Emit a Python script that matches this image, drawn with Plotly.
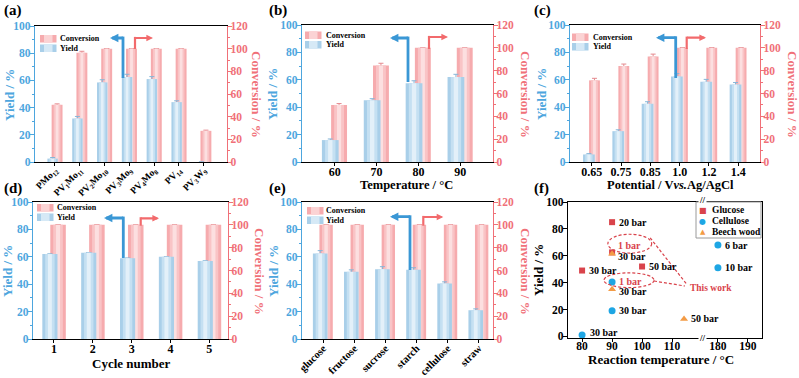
import plotly.graph_objects as go

W, H = 799, 378
FONT = "Liberation Serif"
BLUE_T = "#4da6de"
RED_T = "#f07078"
BLUE_ARR = "#3a97d5"
RED_ARR = "#f26a6c"
GLU_C = "#d9434b"
CEL_C = "#1ea6e4"
BEE_C = "#f39b45"
TW_C = "#d9434b"

# ---------------- data ----------------
# (a) catalysts
a_cats = ["PMo<sub>12</sub>", "PV<sub>1</sub>Mo<sub>11</sub>", "PV<sub>2</sub>Mo<sub>10</sub>",
          "PV<sub>3</sub>Mo<sub>9</sub>", "PV<sub>4</sub>Mo<sub>8</sub>", "PV<sub>14</sub>",
          "PV<sub>3</sub>W<sub>9</sub>"]
a_yield = [2.5, 32, 58.5, 62.5, 61, 44, 0]
a_yield_err = [0.8, 1.5, 2, 2, 1.8, 1, None]
a_conv = [50.5, 96.5, 100, 100, 100, 100, 27.5]
a_conv_err = [0.8, 1.2, None, None, None, None, 0.6]

# (b) temperature
b_cats = ["60", "70", "80", "90"]
b_yield = [16, 45, 57.5, 62]
b_yield_err = [0.8, 1.2, 1.8, 2]
b_conv = [50, 84.5, 100, 100]
b_conv_err = [1.2, 2, None, None]

# (c) potential
c_cats = ["0.65", "0.75", "0.85", "1.0", "1.2", "1.4"]
c_yield = [5.5, 22.5, 42.5, 62.5, 58.5, 56.5]
c_yield_err = [0.6, 1, 1.5, 2, 1.8, 1.5]
c_conv = [71.5, 84, 92.5, 100, 100, 100]
c_conv_err = [1.8, 1.8, 2, None, None, None]

# (d) cycles
d_cats = ["1", "2", "3", "4", "5"]
d_yield = [62, 63, 59, 60, 57]
d_yield_err = [None, None, None, None, None]
d_conv = [100, 100, 100, 100, 100]
d_conv_err = [None, None, None, None, None]

# (e) substrates
e_cats = ["glucose", "fructose", "sucrose", "starch", "cellulose", "straw"]
e_yield = [62.5, 49, 51, 50.5, 40.5, 21]
e_yield_err = [2, 1.5, 1.8, 1.5, 1.2, 1]
e_conv = [100, 100, 100, 100, 100, 100]
e_conv_err = [None, None, None, None, None, None]

# (f) literature comparison
f_xticks = [80, 90, 100, 110, 180, 190]
f_glu_x = [90, 90, 80, 100]
f_glu_y = [85, 62.5, 49, 52]
f_glu_lbl = ["20 bar", "1 bar", "30 bar", "50 bar"]
f_cel_x = [90, 90, 80, 180, 180]
f_cel_y = [40.5, 19, 1, 68, 51]
f_cel_lbl = ["1 bar", "30 bar", "30 bar", "6 bar", "10 bar"]
f_bee_x = [90, 90, 114]
f_bee_y = [61.5, 35, 13]
f_bee_lbl = ["30 bar", "30 bar", "50 bar"]
f_thiswork = {("glu", 1), ("cel", 0)}


def PX(p):
    return p / W


def PY(p):
    return 1 - p / H


def fmap(x):
    # broken axis: 180.. mapped right after the break
    return x if x < 150 else x - 180 + 125.3


fig = go.Figure()
annotations = []
shapes = []
layout = {}

CONV_LAYERS = [(1.0, "#f6abae"), (0.62, "#f9c4c6"), (0.26, "#fcdfe0")]
YIELD_LAYERS = [(1.0, "#a9cfe9"), (0.62, "#c5e0f2"), (0.26, "#e3f0f9")]

panels = [
    dict(cats=a_cats, yv=a_yield, ye=a_yield_err, cv=a_conv, ce=a_conv_err,
         box=(35, 26, 227, 162), xr=[-0.8, 6.94], wy=0.42, wc=0.44, d=0.18, ta=-45, tfs=9.5),
    dict(cats=b_cats, yv=b_yield, ye=b_yield_err, cv=b_conv, ce=b_conv_err,
         box=(302, 25, 493, 162), xr=[-0.78, 3.78], wy=0.4, wc=0.38, d=0.21, ta=0, tfs=12),
    dict(cats=c_cats, yv=c_yield, ye=c_yield_err, cv=c_conv, ce=c_conv_err,
         box=(570, 25, 760, 162), xr=[-0.74, 5.74], wy=0.4, wc=0.37, d=0.19, ta=0, tfs=12),
    dict(cats=d_cats, yv=d_yield, ye=d_yield_err, cv=d_conv, ce=d_conv_err,
         box=(33, 202, 228, 339), xr=[-0.54, 4.48], wy=0.39, wc=0.4, d=0.21, ta=0, tfs=12),
    dict(cats=e_cats, yv=e_yield, ye=e_yield_err, cv=e_conv, ce=e_conv_err,
         box=(302, 202, 493, 339), xr=[-0.68, 5.46], wy=0.47, wc=0.43, d=0.19, ta=-45, tfs=10.5),
]

for k, p in enumerate(panels, start=1):
    xa = "x" if k == 1 else f"x{k}"
    ic, iy = 2 * k - 1, 2 * k
    yc = "y" if ic == 1 else f"y{ic}"
    yy = f"y{iy}"
    # conversion bars (base axis, right side)
    for frac, col in CONV_LAYERS:
        w = p["wc"] * frac
        err = None
        if frac == 1.0:
            err = dict(type="data", array=p["ce"], visible=True, thickness=1, width=2.5, color="#e58a8f")
        fig.add_trace(go.Bar(x=p["cats"], y=p["cv"], width=w, offset=p["d"] / 2 - w / 2,
                             xaxis=xa, yaxis=yc, marker=dict(color=col, line=dict(width=0)),
                             error_y=err, showlegend=False, hoverinfo="skip"))
    # yield bars (overlay axis, left side, drawn on top)
    for frac, col in YIELD_LAYERS:
        w = p["wy"] * frac
        err = None
        if frac == 1.0:
            err = dict(type="data", array=p["ye"], visible=True, thickness=1, width=2.5, color="#86b6d8")
        fig.add_trace(go.Bar(x=p["cats"], y=p["yv"], width=w, offset=-p["d"] / 2 - w / 2,
                             xaxis=xa, yaxis=yy, marker=dict(color=col, line=dict(width=0)),
                             error_y=err, showlegend=False, hoverinfo="skip"))

    x0, y0, x1, y1 = p["box"]
    layout["xaxis" if k == 1 else f"xaxis{k}"] = dict(
        domain=[PX(x0), PX(x1)], anchor=yc, type="category", range=p["xr"],
        showline=True, linecolor="black", linewidth=1.3, mirror=True,
        ticks="outside", ticklen=3, tickwidth=1, tickcolor="black", ticklabelstandoff=-5,
        tickfont=dict(family=FONT, size=p["tfs"], color="black", weight="bold"),
        tickangle=p["ta"], showgrid=False, zeroline=False, automargin=False, fixedrange=True)
    layout["yaxis" if ic == 1 else f"yaxis{ic}"] = dict(
        domain=[PY(y1), PY(y0)], anchor=xa, side="right", range=[0, 120], tick0=0, dtick=20,
        showline=True, linecolor=RED_T, linewidth=1.3, ticks="outside", ticklen=4, tickwidth=1,
        tickcolor=RED_T, tickfont=dict(family=FONT, size=11.5, color=RED_T, weight="bold"),
        ticklabelstandoff=-4,
        minor=dict(ticks="outside", ticklen=2, dtick=10, tickcolor=RED_T),
        showgrid=False, zeroline=False, automargin=False, fixedrange=True)
    layout[f"yaxis{iy}"] = dict(
        overlaying=yc, anchor=xa, side="left", range=[0, 100], tick0=0, dtick=20,
        showline=True, linecolor=BLUE_T, linewidth=1.3, ticks="outside", ticklen=4, tickwidth=1,
        tickcolor=BLUE_T, tickfont=dict(family=FONT, size=11.5, color=BLUE_T, weight="bold"),
        ticklabelstandoff=-3,
        minor=dict(ticks="outside", ticklen=2, dtick=10, tickcolor=BLUE_T),
        showgrid=False, zeroline=False, automargin=False, fixedrange=True)

# ---------------- panel (f) ----------------
fig.add_trace(go.Scatter(x=[fmap(v) for v in f_glu_x], y=f_glu_y, mode="markers", xaxis="x6", yaxis="y11",
                         marker=dict(symbol="square", size=6, color=GLU_C), showlegend=False, hoverinfo="skip"))
fig.add_trace(go.Scatter(x=[fmap(v) for v in f_bee_x], y=f_bee_y, mode="markers", xaxis="x6", yaxis="y11",
                         marker=dict(symbol="triangle-up", size=7, color=BEE_C), showlegend=False, hoverinfo="skip"))
fig.add_trace(go.Scatter(x=[fmap(v) for v in f_cel_x], y=f_cel_y, mode="markers", xaxis="x6", yaxis="y11",
                         marker=dict(symbol="circle", size=7, color=CEL_C), showlegend=False, hoverinfo="skip"))

layout["xaxis6"] = dict(
    domain=[PX(568), PX(762)], anchor="y11", range=[75.3, 140],
    tickvals=[fmap(v) for v in f_xticks], ticktext=[str(v) for v in f_xticks],
    showline=True, linecolor="black", linewidth=1.3, mirror=True,
    ticks="outside", ticklen=3, tickcolor="black", ticklabelstandoff=-6,
    tickfont=dict(family=FONT, size=11.5, color="black", weight="bold"),
    showgrid=False, zeroline=False, automargin=False, fixedrange=True)
layout["yaxis11"] = dict(
    domain=[PY(338), PY(202)], anchor="x6", range=[-1.2, 100], tick0=0, dtick=20,
    showline=True, linecolor="black", linewidth=1.3, mirror=True,
    ticks="outside", ticklen=4, tickcolor="black", ticklabelstandoff=-3,
    tickfont=dict(family=FONT, size=11.5, color="black", weight="bold"),
    showgrid=False, zeroline=False, automargin=False, fixedrange=True)

shifts = {("glu", 1): (4, 7), ("bee", 0): (4, -3), ("bee", 1): (5, -2), ("cel", 2): (6, 3)}
for key, xs, ys, lbls in [("glu", f_glu_x, f_glu_y, f_glu_lbl), ("cel", f_cel_x, f_cel_y, f_cel_lbl),
                          ("bee", f_bee_x, f_bee_y, f_bee_lbl)]:
    for i, (xv, yv, lb) in enumerate(zip(xs, ys, lbls)):
        xs_, ys_ = shifts.get((key, i), (5, 0))
        col = TW_C if (key, i) in f_thiswork else "black"
        annotations.append(dict(x=fmap(xv), y=yv, xref="x6", yref="y11", text=lb, showarrow=False,
                                xanchor="left", yanchor="middle", xshift=xs_, yshift=ys_,
                                font=dict(family=FONT, size=10, color=col, weight="bold")))

# "This work" callouts
shapes += [
    dict(type="circle", xref="x6", yref="y11", x0=88.6, x1=103.2, y0=62, y1=76,
         line=dict(color=TW_C, width=1.2, dash="3px,2px")),
    dict(type="circle", xref="x6", yref="y11", x0=87.3, x1=104, y0=36.3, y1=47.3,
         line=dict(color=TW_C, width=1.2, dash="3px,2px")),
    dict(type="line", xref="x6", yref="y11", x0=102.7, y0=73.3, x1=114.9, y1=38.8,
         line=dict(color=TW_C, width=1.2, dash="3px,2px")),
    dict(type="line", xref="x6", yref="y11", x0=104, y0=41.2, x1=114.3, y1=37.5,
         line=dict(color=TW_C, width=1.2, dash="3px,2px")),
]
annotations.append(dict(x=115.3, y=36.3, xref="x6", yref="y11", text="This work", showarrow=False,
                        xanchor="left", yanchor="middle",
                        font=dict(family=FONT, size=9.5, color=TW_C, weight="bold")))

# legend of (f)
shapes.append(dict(type="rect", xref="paper", yref="paper", x0=PX(696), x1=PX(761), y0=PY(238), y1=PY(202),
                   fillcolor="white", line=dict(color="#9a9a9a", width=1)))
for sym, col, txt, yp, fs in [("■", GLU_C, "Glucose", 210, 8), ("●", CEL_C, "Cellulose", 221, 8),
                              ("▲", BEE_C, "Beech wood", 232, 7)]:
    annotations.append(dict(x=PX(702.7), y=PY(yp), xref="paper", yref="paper", text=sym, showarrow=False,
                            xanchor="center", yanchor="middle",
                            font=dict(family="DejaVu Sans", size=fs, color=col)))
    annotations.append(dict(x=PX(710), y=PY(yp), xref="paper", yref="paper", text=txt, showarrow=False,
                            xanchor="left", yanchor="middle",
                            font=dict(family=FONT, size=9.5, color="black", weight="bold")))

# axis-break marks
for yp in (200, 338):
    annotations.append(dict(x=120, y=PY(yp), xref="x6", yref="paper", text="//", showarrow=False,
                            xanchor="center", yanchor="middle", bgcolor="white", borderpad=0,
                            font=dict(family=FONT, size=9, color="black", weight="bold")))

# ---------------- legends of bar panels ----------------
legend_pos = [(40, 35, 58), (305, 31.5, 324), (572, 33.5, 591), (37, 204, 55), (307, 207, 324)]
for lx, ly, tx in legend_pos:
    for j, (txt, outer, inner) in enumerate([("Conversion", "#f6abae", "#fbd3d4"),
                                             ("Yield", "#a9cfe9", "#d6e9f6")]):
        top = ly + j * 9.5
        shapes.append(dict(type="rect", xref="paper", yref="paper", x0=PX(lx), x1=PX(lx + 16.5),
                           y0=PY(top + 7.5), y1=PY(top), fillcolor=outer, line=dict(width=0)))
        shapes.append(dict(type="rect", xref="paper", yref="paper", x0=PX(lx + 4), x1=PX(lx + 12.5),
                           y0=PY(top + 7.5), y1=PY(top), fillcolor=inner, line=dict(width=0)))
        annotations.append(dict(x=PX(tx), y=PY(top + 3.75), xref="paper", yref="paper", text=txt,
                                showarrow=False, xanchor="left", yanchor="middle",
                                font=dict(family=FONT, size=8, color="black", weight="bold")))

# ---------------- elbow arrows ----------------
arrows = [
    (123, 78, 38, 110, BLUE_ARR, 2.8), (135, 49, 38, 153, RED_ARR, 2.2),
    (408, 82, 38, 390, BLUE_ARR, 2.8), (429, 49, 37, 448, RED_ARR, 2.2),
    (675.7, 78, 37.7, 656, BLUE_ARR, 2.8), (686.7, 49, 37.7, 706, RED_ARR, 2.2),
    (123.3, 258, 218, 104, BLUE_ARR, 2.8), (140.7, 225.7, 218.3, 159, RED_ARR, 2.2),
    (410, 270, 216.7, 390, BLUE_ARR, 2.8), (423.3, 225.7, 217, 443.3, RED_ARR, 2.2),
]
for vx, yb, yt, hx, col, lw in arrows:
    shapes.append(dict(type="line", xref="paper", yref="paper", x0=PX(vx), x1=PX(vx),
                       y0=PY(yb), y1=PY(yt - lw / 2), line=dict(color=col, width=lw)))
    sgn = 1 if vx > hx else -1
    annotations.append(dict(x=PX(hx), y=PY(yt), xref="paper", yref="paper", text="",
                            showarrow=True, ax=(vx - hx) + sgn * lw / 2, ay=0,
                            arrowhead=2, arrowsize=0.6, arrowwidth=lw, arrowcolor=col))

# ---------------- titles ----------------
def title(x, y, text, color, angle=0, size=13):
    annotations.append(dict(x=PX(x), y=PY(y), xref="paper", yref="paper", text=text, showarrow=False,
                            xanchor="center", yanchor="middle", textangle=angle,
                            font=dict(family=FONT, size=size, color=color, weight="bold")))

for x, y in [(9, 95), (273, 94), (542, 94), (7, 271), (273, 271)]:
    title(x, y, "Yield / %", BLUE_T, -90)
for x, y in [(256, 94), (525, 94), (792, 94), (260, 271), (526, 271)]:
    title(x, y, "Conversion / %", RED_T, 90)
title(538, 270, "Yield / %", "black", -90)
title(406, 184.5, "Temperature / °C", "black", size=12.5)
title(670, 185, "Potential / V<i>vs.</i>Ag/AgCl", "black", size=12.5)
title(131, 363, "Cycle number", "black")
title(661, 359, "Reaction temperature / °C", "black")

for x, y, t in [(2, 11, "(a)"), (267, 11, "(b)"), (532, 11, "(c)"),
                (2, 188, "(d)"), (267, 188, "(e)"), (532, 188, "(f)")]:
    annotations.append(dict(x=PX(x), y=PY(y), xref="paper", yref="paper", text=t, showarrow=False,
                            xanchor="left", yanchor="middle",
                            font=dict(family=FONT, size=15, color="black", weight="bold")))

fig.update_layout(width=W, height=H, margin=dict(l=0, r=0, t=0, b=0), template="none",
                  paper_bgcolor="white", plot_bgcolor="rgba(0,0,0,0)", barmode="overlay",
                  showlegend=False, font=dict(family=FONT), annotations=annotations, shapes=shapes,
                  **layout)
fig.write_html("out.html", config={"displayModeBar": False},
               post_script="document.body.style.margin='0';document.body.style.padding='0';"
                           "document.body.style.overflow='hidden';")
